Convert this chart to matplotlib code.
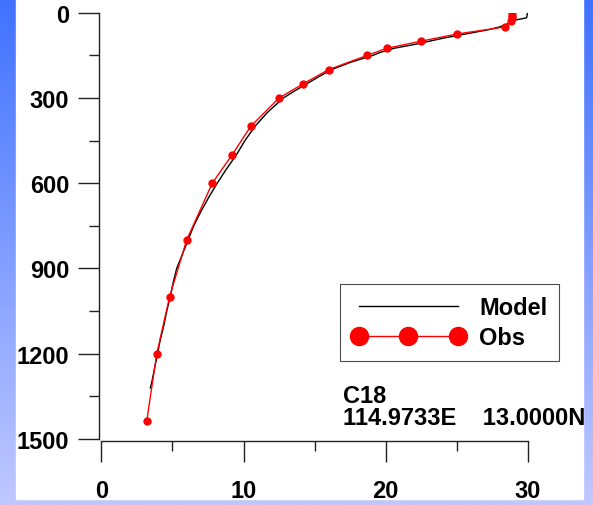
import numpy as np
import matplotlib
matplotlib.use("Agg")
import matplotlib.pyplot as plt
from matplotlib.patches import Rectangle

plt.rcParams["font.family"] = ["Liberation Sans", "DejaVu Sans"]
plt.rcParams["font.weight"] = "bold"

# Observed profile (temperature vs depth)
obs_depth = [0, 10, 20, 30, 50, 75, 100, 125, 150, 200, 250, 300, 400, 500,
             600, 800, 1000, 1200, 1435]
obs_temp = [28.85, 28.85, 28.85, 28.8, 28.4, 25.0, 22.5, 20.1, 18.7, 16.0,
            14.2, 12.5, 10.5, 9.2, 7.8, 6.0, 4.8, 3.9, 3.2]

# Model profile
model_depth = [0, 5, 18, 22, 26, 30, 42, 50, 60, 75, 90, 100, 110, 125, 140,
               150, 175, 200, 225, 250, 275, 300, 350, 400, 450, 500, 550,
               600, 650, 700, 750, 800, 850, 900, 950, 1000, 1050, 1100,
               1150, 1200, 1250, 1300, 1320]
model_temp = [29.95, 29.95, 29.9, 29.5, 29.1, 28.9, 28.45, 28.0, 27.2, 25.6,
              24.0, 23.1, 22.2, 20.6, 19.6, 19.1, 17.5, 16.2, 15.3, 14.45,
              13.6, 12.8, 11.7, 10.8, 10.1, 9.5, 8.8, 8.15, 7.55, 7.0, 6.5,
              6.1, 5.7, 5.3, 5.05, 4.85, 4.6, 4.4, 4.15, 3.95, 3.75, 3.55,
              3.45]

station = "C18"
location = "114.9733E    13.0000N"

W, H = 593, 506
fs = 17
fig = plt.figure(figsize=(W / 100, H / 100), dpi=100)

# blue gradient background with white panel
bg = fig.add_axes([0, 0, 1, 1], zorder=-10)
grad = np.linspace(0, 1, 256).reshape(-1, 1)
top_c = np.array([0x40, 0x72, 0xff]) / 255
bot_c = np.array([0xc0, 0xc8, 0xff]) / 255
img = top_c + (bot_c - top_c) * grad[:, :, None]
bg.imshow(img, aspect="auto", extent=[0, 1, 0, 1])
bg.add_patch(Rectangle((16 / W, 6 / H), (583 - 16) / W, 1, color="white"))
bg.set_xlim(0, 1)
bg.set_ylim(0, 1)
bg.axis("off")

ax = fig.add_axes([101.3 / W, 1 - 440 / H, (528 - 101.3) / W,
                   (440 - 13.7) / H])
ax.patch.set_alpha(0)

ax.plot(model_temp, model_depth, color="black", lw=1.0, label="Model")
ax.plot(obs_temp, obs_depth, color="red", lw=1.0, marker="o", ms=5,
        label="Obs")

ax.set_xlim(0, 30)
ax.set_ylim(1500, 0)
ax.set_xticks([0, 10, 20, 30])
ax.set_xticks([5, 15, 25], minor=True)
ax.set_yticks(range(0, 1501, 300))
ax.set_yticks(range(150, 1500, 300), minor=True)

for s in ["top", "right"]:
    ax.spines[s].set_visible(False)
ax.spines["left"].set_position(("outward", 2))
ax.spines["bottom"].set_position(("outward", 1.5))
for s in ["left", "bottom"]:
    ax.spines[s].set_linewidth(1.0)
    ax.spines[s].set_color("#202020")

ax.tick_params(which="major", length=15, width=1.0, color="#202020",
               labelsize=fs)
ax.tick_params(which="minor", length=7.5, width=1.0, color="#202020")
ax.tick_params(axis="y", which="major", pad=6)
ax.tick_params(axis="x", which="major", pad=12)

leg = ax.legend(loc="upper left", bbox_to_anchor=(340 / W, 1 - 285 / H),
                bbox_transform=fig.transFigure, borderaxespad=0,
                numpoints=3, markerscale=2.6, handlelength=4.8,
                fontsize=fs, fancybox=False, frameon=True,
                handletextpad=0.6, borderpad=0.5, labelspacing=0.3)
leg.get_frame().set_edgecolor("#202020")
leg.get_frame().set_linewidth(0.8)

fig.text(343 / W, 1 - 385 / H, station, fontsize=fs, fontweight="bold",
         va="top", ha="left")
fig.text(343 / W, 1 - 407 / H, location, fontsize=fs, fontweight="bold",
         va="top", ha="left")

fig.savefig("out.png", dpi=100)
